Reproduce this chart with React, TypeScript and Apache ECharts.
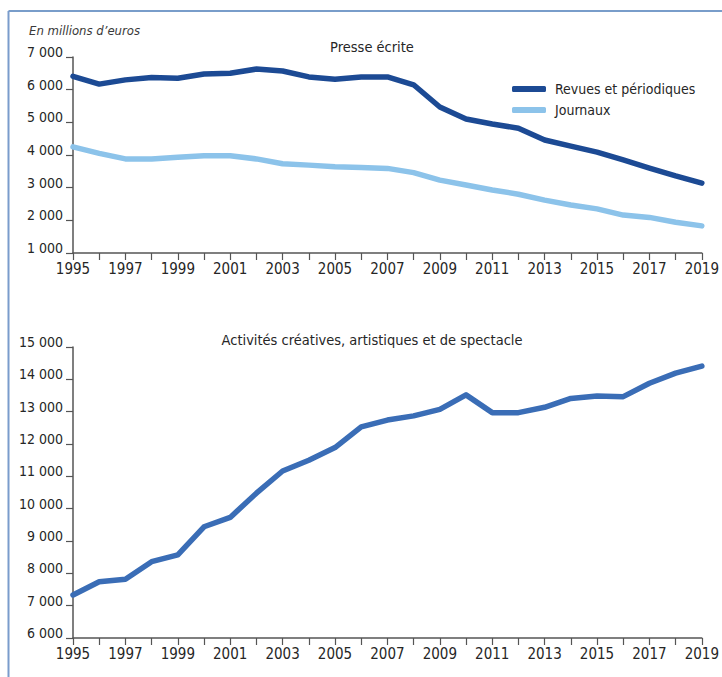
import React, { useEffect, useRef } from "react";
import * as echarts from "echarts";

const years = ["1995","1996","1997","1998","1999","2000","2001","2002","2003","2004","2005","2006","2007","2008","2009","2010","2011","2012","2013","2014","2015","2016","2017","2018","2019"];
const revues = [6410,6170,6300,6370,6350,6480,6500,6630,6570,6390,6320,6390,6390,6150,5470,5100,4950,4820,4460,4270,4090,3850,3600,3360,3140];
const journaux = [4250,4050,3880,3880,3930,3980,3980,3880,3730,3690,3640,3620,3590,3460,3230,3080,2930,2800,2620,2470,2350,2160,2090,1940,1830];
const activites = [7330,7740,7815,8360,8570,9440,9730,10480,11165,11500,11890,12530,12740,12870,13070,13520,12970,12970,13135,13410,13485,13465,13880,14190,14410];

const topTitle = "Presse écrite";
const bottomTitle = "Activités créatives, artistiques et de spectacle";
const unitLabel = "En millions d’euros";

const FONT = "'DejaVu Sans Condensed', 'Liberation Sans Narrow', sans-serif";
const TXT = "#262626";
const AXIS = "#555555";

const fmt = (v: number) => {
  const s = String(Math.round(v));
  return s.replace(/\B(?=(\d{3})+(?!\d))/g, " ");
};

export default function App() {
  const ref = useRef<HTMLDivElement>(null);
  useEffect(() => {
    if (!ref.current) return;
    const chart = echarts.init(ref.current, null, { renderer: "svg" });
    const xAxisBase = (gridIndex: number) => ({
      type: "category",
      gridIndex,
      data: years,
      boundaryGap: false,
      axisLine: { show: true, lineStyle: { color: AXIS, width: 1.5 } },
      axisTick: { show: true, alignWithLabel: true, interval: 0, length: 7, lineStyle: { color: AXIS, width: 1.2 } },
      axisLabel: { interval: 1, color: TXT, fontFamily: FONT, fontSize: 15, margin: 8 },
      splitLine: { show: false },
    });
    const yAxisBase = (gridIndex: number, min: number, max: number) => ({
      type: "value",
      gridIndex,
      min,
      max,
      interval: 1000,
      axisLine: { show: true, lineStyle: { color: AXIS, width: 1.5 } },
      axisTick: { show: true, length: 7, lineStyle: { color: AXIS, width: 1.2 } },
      axisLabel: { color: TXT, fontFamily: FONT, fontSize: 14, margin: 10, formatter: fmt, verticalAlign: "bottom", padding: [0, 0, -2, 0] },
      splitLine: { show: false },
    });
    chart.setOption({
      animation: false,
      backgroundColor: "#ffffff",
      textStyle: { fontFamily: FONT },
      title: [
        { text: topTitle, left: 367, top: 34, textAlign: "center", textStyle: { fontFamily: FONT, fontSize: 14.5, fontWeight: "normal", color: TXT } },
        { text: bottomTitle, left: 367, top: 327, textAlign: "center", textStyle: { fontFamily: FONT, fontSize: 14.5, fontWeight: "normal", color: TXT } },
        { text: unitLabel, left: 24, top: 19, textStyle: { fontFamily: FONT, fontSize: 13, fontStyle: "italic", fontWeight: "normal", color: "#3a3a3a" } },
      ],
      legend: {
        data: ["Revues et périodiques", "Journaux"],
        orient: "vertical",
        left: 507,
        top: 77,
        itemWidth: 34,
        itemHeight: 6,
        itemGap: 7,
        icon: "roundRect",
        textStyle: { fontFamily: FONT, fontSize: 14, color: TXT, padding: [0, 0, 0, 4] },
      },
      grid: [
        { left: 73, right: 19, top: 57, height: 196 },
        { left: 73, right: 19, top: 347, height: 291 },
      ],
      xAxis: [xAxisBase(0), xAxisBase(1)],
      yAxis: [yAxisBase(0, 1000, 7000), yAxisBase(1, 6000, 15000)],
      graphic: [
        { type: "line", shape: { x1: 8.5, y1: 11, x2: 722, y2: 11 }, style: { stroke: "#4d7cb9", lineWidth: 1.5 } },
        { type: "line", shape: { x1: 8.5, y1: 11, x2: 8.5, y2: 677 }, style: { stroke: "#7a9ccc", lineWidth: 2 } },
      ],
      series: [
        { name: "Revues et périodiques", type: "line", xAxisIndex: 0, yAxisIndex: 0, data: revues, showSymbol: false, symbol: "none", color: "#1c4a94", lineStyle: { width: 5.5, color: "#1c4a94", cap: "round", join: "round" } },
        { name: "Journaux", type: "line", xAxisIndex: 0, yAxisIndex: 0, data: journaux, showSymbol: false, symbol: "none", color: "#8cc3ea", lineStyle: { width: 5.5, color: "#8cc3ea", cap: "round", join: "round" } },
        { name: "Activités", type: "line", xAxisIndex: 1, yAxisIndex: 1, data: activites, showSymbol: false, symbol: "none", color: "#3a6db6", lineStyle: { width: 5.5, color: "#3a6db6", cap: "round", join: "round" } },
      ],
    });
    return () => chart.dispose();
  }, []);
  return <div ref={ref} style={{ width: 722, height: 677, position: "absolute", left: 0, top: 0 }} />;
}
